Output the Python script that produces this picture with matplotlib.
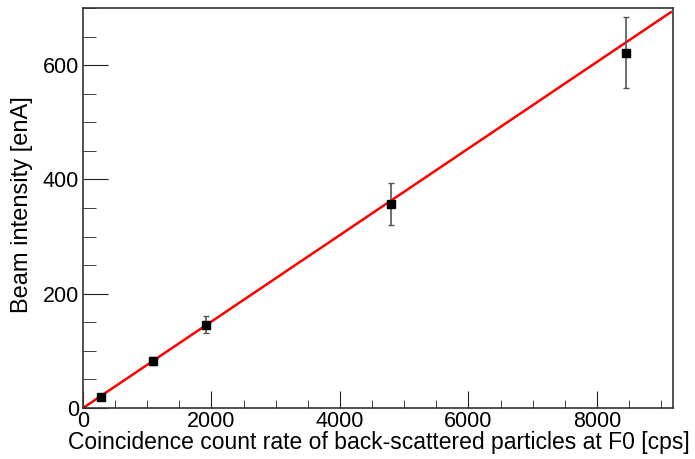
import matplotlib
matplotlib.use("Agg")
import matplotlib.pyplot as plt
import numpy as np
from matplotlib.ticker import MultipleLocator

plt.rcParams['font.family'] = ['Liberation Sans', 'DejaVu Sans']

# data
count_rate = [280, 1095, 1913, 4800, 8445]
beam_intensity = [20, 82, 146, 357, 622]
intensity_err = [3, 7, 15, 36, 62]

# linear fit shown in the chart
fit_slope = 0.0757
fit_offset = 0.0
fit_x = [0, 9150]

fig = plt.figure(figsize=(6.95, 4.59), dpi=100)
ax = fig.add_axes([0.1194, 0.111, 0.8486, 0.8716])

xf = np.array(fit_x)
ax.plot(xf, fit_slope * xf + fit_offset, color='red', lw=1.8, zorder=2)
ax.errorbar(count_rate, beam_intensity, yerr=intensity_err, fmt='s', color='black',
            ms=6, ecolor='#555555', elinewidth=1.2, capsize=2, capthick=1, zorder=3)

ax.set_xlim(0, 9180)
ax.set_ylim(0, 700)
ax.xaxis.set_major_locator(MultipleLocator(2000))
ax.xaxis.set_minor_locator(MultipleLocator(500))
ax.yaxis.set_major_locator(MultipleLocator(200))
ax.yaxis.set_minor_locator(MultipleLocator(50))
ax.tick_params(axis='both', which='both', direction='in', top=False, right=False,
               labelsize=15.5, color='#222222')
ax.tick_params(axis='x', which='major', length=12, pad=2)
ax.tick_params(axis='x', which='minor', length=6)
ax.tick_params(axis='y', which='major', length=18, pad=3)
ax.tick_params(axis='y', which='minor', length=9)
for s in ax.spines.values():
    s.set_color('#333333')
    s.set_linewidth(1.2)

ax.set_xlabel('Coincidence count rate of back-scattered particles at F0 [cps]', fontsize=16.5)
ax.set_ylabel('Beam intensity [enA]', fontsize=17)
ax.xaxis.set_label_coords(1.029, -0.085)
ax.xaxis.label.set_horizontalalignment('right')
ax.xaxis.label.set_verticalalignment('center')
ax.yaxis.set_label_coords(-0.103, 0.78)
ax.yaxis.label.set_horizontalalignment('right')
ax.yaxis.label.set_verticalalignment('center')

fig.savefig('out.png', dpi=100)
